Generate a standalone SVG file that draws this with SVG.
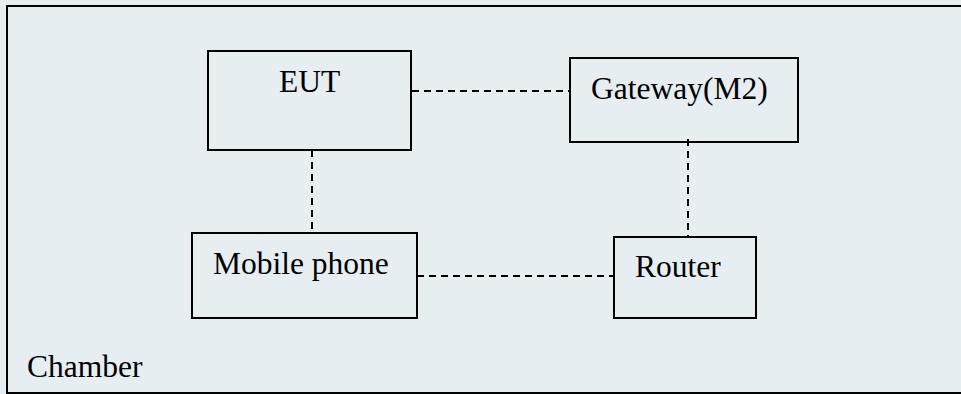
<svg xmlns="http://www.w3.org/2000/svg" width="961" height="394" viewBox="0 0 961 394">
<style>
.bg{fill:#E6EEF1}
.frame{fill:none;stroke:#000;stroke-width:2}
.box{fill:none;stroke:#000;stroke-width:2}
.lbl{font-family:"Liberation Serif","Times New Roman",serif;font-size:31.5px;fill:#000}
.link{stroke:#000;stroke-width:2;stroke-dasharray:7 5;fill:none}
</style>
<rect class="bg" x="0" y="0" width="961" height="394"/>
<g id="chamber">
<rect class="frame" x="7" y="6" width="960" height="387"/>
<text class="lbl" x="27" y="377">Chamber</text>
</g>
<g id="connectors">
<line class="link" x1="412" y1="91" x2="570" y2="91"/>
<line class="link" x1="312" y1="150" x2="312" y2="233"/>
<line class="link" x1="688" y1="139" x2="688" y2="237"/>
<line class="link" x1="417" y1="276" x2="614" y2="276"/>
</g>
<g id="eut">
<rect class="box" x="208" y="51" width="203" height="99"/>
<text class="lbl" x="279" y="92">EUT</text>
</g>
<g id="gateway">
<rect class="box" x="570" y="58" width="228" height="84"/>
<text class="lbl" x="591" y="99">Gateway(M2)</text>
</g>
<g id="mobile">
<rect class="box" x="192" y="233" width="225" height="85"/>
<text class="lbl" x="213" y="274">Mobile phone</text>
</g>
<g id="router">
<rect class="box" x="614" y="237" width="142" height="81"/>
<text class="lbl" x="635" y="277">Router</text>
</g>
</svg>
